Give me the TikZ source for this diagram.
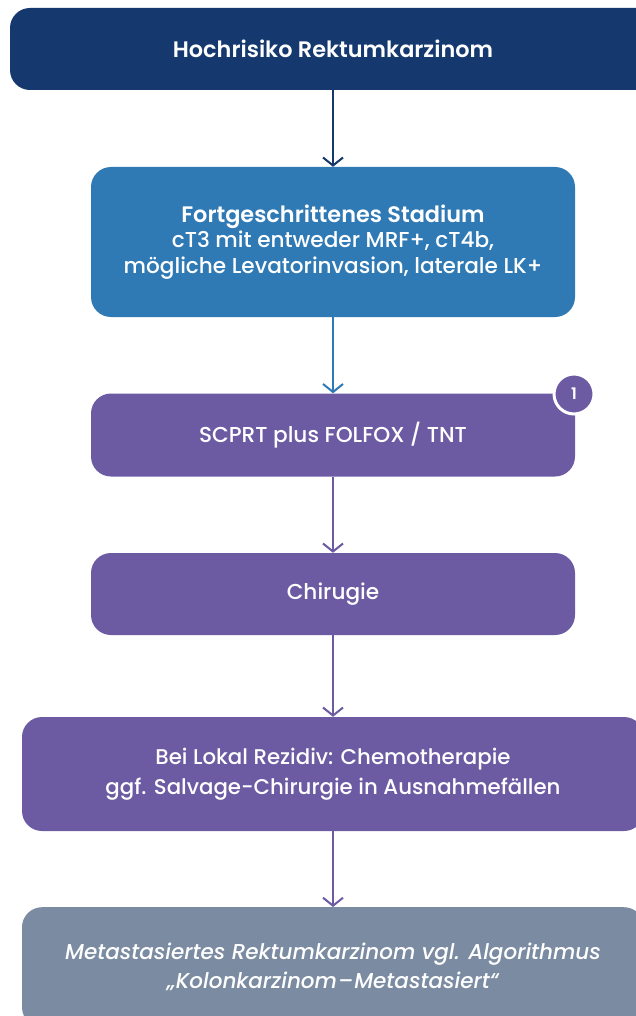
\documentclass[tikz,border=0pt]{standalone}
\usepackage{fontspec}
\setmainfont{Poppins}[UprightFont=* Medium, ItalicFont=* Medium Italic, BoldFont=* SemiBold]
\usetikzlibrary{arrows.meta}
\definecolor{navy}{HTML}{15396F}
\definecolor{steel}{HTML}{2F7AB5}
\definecolor{violet}{HTML}{6C5BA3}
\definecolor{slate}{HTML}{7B8CA2}
\newcommand{\headline}[1]{{\fontsize{22.4}{25.5}\bfseries\selectfont #1}}
\begin{document}
\begin{tikzpicture}[x=1pt,y=-1pt,
  box/.style={rounded corners=20pt, inner sep=0pt, text=white, align=center,
    font=\fontsize{21.6}{25.5}\selectfont},
  flow/.style={line width=2pt, -{Straight Barb[length=8pt,width=20pt,line width=2pt]}}]
\clip (0,0) rectangle (636,1016);
\fill[white] (0,0) rectangle (636,1016);
% boxes
\node[box, fill=navy, minimum width=646pt, minimum height=82pt]
  (risk) at (333,49) {\headline{Hochrisiko Rektumkarzinom}};
\node[box, fill=steel, minimum width=484pt, minimum height=150pt] (stage) at (333,242)
  {\headline{Fortgeschrittenes Stadium}\\cT3 mit entweder MRF+, cT4b,\\mögliche Levatorinvasion, laterale LK+};
\node[box, fill=violet, minimum width=484pt, minimum height=83pt] (tnt) at (333,435)
  {SCPRT plus FOLFOX / TNT};
\node[box, fill=violet, minimum width=484pt, minimum height=82pt] (surg) at (333,594)
  {Chirugie};
\node[box, fill=violet, minimum width=622pt, minimum height=114pt, font=\fontsize{21.3}{30}\selectfont] (recur) at (333,774)
  {Bei Lokal Rezidiv: Chemotherapie\\ggf. Salvage-Chirurgie in Ausnahmefällen};
\node[box, fill=slate, minimum width=622pt, minimum height=120pt, anchor=north,
  font=\fontsize{21.5}{29}\itshape\selectfont] (meta) at (333,907)
  {Metastasiertes Rektumkarzinom vgl. Algorithmus\\„Kolonkarzinom\kern1pt–\kern1pt Metastasiert“};
% badge
\node[circle, fill=violet, draw=white, line width=3pt, minimum size=40pt, inner sep=0pt,
  text=white, font=\fontsize{16}{16}\bfseries\selectfont] (badge) at (574,394) {1};
% connectors
\draw[flow, navy] (risk.south) -- (stage.north);
\draw[flow, steel] (stage.south) -- (tnt.north);
\draw[flow, violet] (tnt.south) -- (surg.north);
\draw[flow, violet] (surg.south) -- (recur.north);
\draw[flow, violet] (recur.south) -- (meta.north);
\end{tikzpicture}
\end{document}
